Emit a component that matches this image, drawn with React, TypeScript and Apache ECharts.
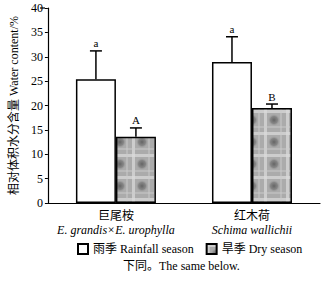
import React, { useEffect, useRef } from "react";
import * as echarts from "echarts";

const categoriesCn = ["巨尾桉", "红木荷"];
const categoriesLatin = ["E. grandis×E. urophylla", "Schima wallichii"];
const rainfall = [25.4, 28.9];
const rainfallErrTop = [31.2, 34.1];
const dry = [13.6, 19.5];
const dryErrTop = [15.4, 20.3];
const rainLetters = ["a", "a"];
const dryLetters = ["A", "B"];
const seriesNames = ["雨季 Rainfall season", "旱季 Dry season"];
const yTicks = { min: 0, max: 40, interval: 5 };

const SERIF = "'Liberation Serif', 'Times New Roman', 'Noto Sans CJK SC', serif";

function makePattern(): HTMLCanvasElement {
  const s = 22;
  const c = document.createElement("canvas");
  c.width = s;
  c.height = s;
  const ctx = c.getContext("2d")!;
  ctx.fillStyle = "#ababab";
  ctx.fillRect(0, 0, s, s);
  ctx.fillStyle = "rgba(220,220,220,0.7)";
  ctx.fillRect(0, 0, s, 3);
  ctx.fillRect(0, 0, 3, s);
  ctx.fillStyle = "rgba(205,205,205,0.45)";
  ctx.fillRect(0, 16, s, 2);
  ctx.fillRect(16, 0, 2, s);
  const g = ctx.createRadialGradient(10, 10, 0, 10, 10, 6);
  g.addColorStop(0, "rgba(100,100,100,1)");
  g.addColorStop(0.6, "rgba(125,125,125,0.8)");
  g.addColorStop(1, "rgba(160,160,160,0)");
  ctx.fillStyle = g;
  ctx.fillRect(0, 0, s, s);
  return c;
}

export default function App() {
  const ref = useRef<HTMLDivElement>(null);
  useEffect(() => {
    const chart = echarts.init(ref.current!, null, { renderer: "svg" });
    const pattern = { image: makePattern(), repeat: "repeat" } as any;
    const errSeries = (vals: number[], tops: number[], letters: string[], dx: number) => ({
      type: "custom",
      z: 5,
      data: vals.map((v, i) => [i, v, tops[i]]),
      renderItem: (params: any, api: any) => {
        const i = api.value(0);
        const b = api.coord([i, api.value(1)]);
        const t = api.coord([i, api.value(2)]);
        const x = b[0] + dx;
        return {
          type: "group",
          children: [
            { type: "line", shape: { x1: x, y1: b[1], x2: x, y2: t[1] }, style: { stroke: "#000", lineWidth: 1.5 } },
            { type: "line", shape: { x1: x - 6, y1: t[1], x2: x + 6, y2: t[1] }, style: { stroke: "#000", lineWidth: 1.5 } },
            {
              type: "text",
              x: x,
              y: t[1] - 2,
              style: { text: letters[params.dataIndex], textAlign: "center", textVerticalAlign: "bottom", font: `11px ${SERIF}`, fill: "#000" },
            },
          ],
        };
      },
    });
    chart.setOption({
      animation: false,
      grid: { left: 40, right: 11, top: 8, bottom: 78 },
      legend: {
        top: 243,
        left: 77,
        padding: 0,
        itemWidth: 10,
        itemHeight: 10,
        itemGap: 12,
        icon: "rect",
        textStyle: { fontFamily: SERIF, fontSize: 12, color: "#000" },
        data: seriesNames,
      },
      xAxis: {
        type: "category",
        data: categoriesCn,
        axisLine: { lineStyle: { color: "#000", width: 1.2 } },
        axisTick: { inside: true, length: 6, lineStyle: { color: "#000" } },
        axisLabel: {
          interval: 0,
          margin: 3,
          formatter: (v: string, i: number) => `{cn|${v}}\n{lat|${categoriesLatin[i]}}`,
          rich: {
            cn: { fontFamily: "'Noto Sans CJK SC', sans-serif", fontSize: 12, color: "#000", lineHeight: 16 },
            lat: { fontFamily: SERIF, fontStyle: "italic", fontSize: 12, color: "#000", lineHeight: 16 },
          },
        },
      },
      yAxis: {
        type: "value",
        min: yTicks.min,
        max: yTicks.max,
        interval: yTicks.interval,
        name: "相对体积水分含量 Water content/%",
        nameLocation: "middle",
        nameGap: 22,
        nameTextStyle: { fontFamily: SERIF, fontSize: 12, color: "#000" },
        axisLine: { show: true, lineStyle: { color: "#000", width: 1.2 } },
        axisTick: { show: true, length: 3, lineStyle: { color: "#000" } },
        axisLabel: { fontFamily: SERIF, fontSize: 12, color: "#000", margin: 5 },
        splitLine: { show: false },
      },
      series: [
        {
          name: seriesNames[0],
          type: "bar",
          data: rainfall,
          barWidth: 40,
          barGap: "0%",
          itemStyle: { color: "#fff", borderColor: "#000", borderWidth: 1.5 },
        },
        {
          name: seriesNames[1],
          type: "bar",
          data: dry,
          barWidth: 40,
          barGap: "0%",
          itemStyle: { color: pattern, borderColor: "#000", borderWidth: 1.5 },
        },
        errSeries(rainfall, rainfallErrTop, rainLetters, -20),
        errSeries(dry, dryErrTop, dryLetters, 20),
      ],
      graphic: [
        { type: "line", shape: { x1: 40, y1: 8, x2: 45, y2: 8 }, style: { stroke: "#000", lineWidth: 1.2 } },
        {
          type: "text",
          left: 123,
          top: 260,
          style: { text: "下同。The same below.", font: `12px ${SERIF}`, fill: "#000" },
        },
      ],
    });
    return () => chart.dispose();
  }, []);
  return <div ref={ref} style={{ position: "absolute", left: 0, top: 0, width: 331, height: 281 }} />;
}
